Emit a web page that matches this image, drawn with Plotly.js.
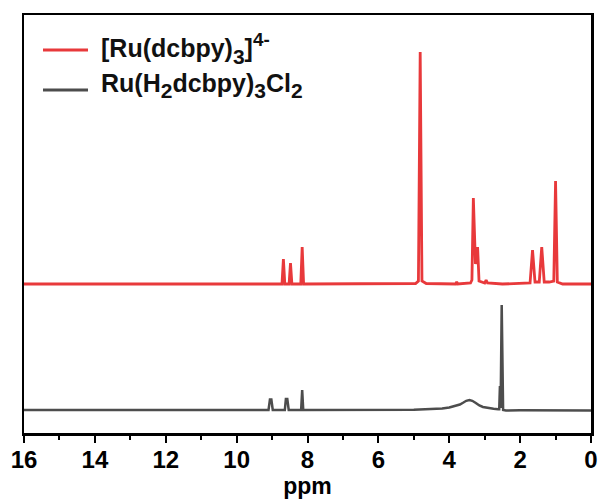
<!DOCTYPE html>
<html>
<head>
<meta charset="utf-8">
<script src="https://cdn.plot.ly/plotly-3.0.1.min.js"></script>
<style>
  html, body { margin: 0; padding: 0; background: #ffffff; }
  #chart { width: 600px; height: 501px; }
</style>
</head>
<body>
<div id="chart"></div>
<script>
// 1H NMR spectra (D2O), chemical shift in ppm vs. intensity (arb. units)

// [Ru(dcbpy)3]4-
const ppmRu = [16, 9.0, 8.72, 8.68, 8.64, 8.52, 8.48, 8.44, 8.19, 8.15, 8.11,
  4.95, 4.87, 4.82, 4.77, 4.65, 3.82, 3.79, 3.76, 3.40, 3.36, 3.32, 3.26, 3.20, 3.16,
  3.0, 2.96, 2.92, 2.5, 1.72, 1.65, 1.58, 1.46, 1.39, 1.32, 1.18, 1.05, 1.0, 0.95, 0.8, 0];
const intRu = [0, 0, 0, 25, 0, 0, 21, 0, 0, 37, 0,
  0.5, 3, 232, 3, 0.5, 0, 2, 0, 1, 4, 86, 20, 37, 3,
  1, 4, 1, 0, 1, 34, 2, 2, 37, 2, 2, 3, 103, 2, 0, 0];

// Ru(H2dcbpy)3Cl2
const ppmH2 = [16, 9.10, 9.06, 9.02, 8.98, 8.64, 8.61, 8.57, 8.53, 8.18, 8.15, 8.12,
  5.0, 4.5, 4.2, 4.0, 3.85, 3.7, 3.6, 3.52, 3.43, 3.35, 3.25, 3.15, 3.05, 2.9, 2.75,
  2.62, 2.59, 2.57, 2.55, 2.52, 2.48, 2.4, 2.0, 0];
const intH2 = [0, 0, 10.5, 10.5, 0, 0, 11, 11, 0, 0, 20, 0,
  0.3, 0.8, 1.5, 2.5, 3.8, 5.5, 7.5, 9.2, 10, 9.2, 7, 4.5, 3, 1.8, 1.2,
  0.8, 0.8, 24, 2, 105, 0, -0.5, -0.3, -0.5];

// legend labels; sub/superscripts sized up so they read close to full size
const sub = s => '<span style="font-size:30px"><sub>' + s + '</sub></span>';
const sup = s => '<span style="font-size:27px"><sup>' + s + '</sup></span>';
const seriesNames = ['[Ru(dcbpy)' + sub('3') + ']' + sup('4-'),
                     'Ru(H' + sub('2') + 'dcbpy)' + sub('3') + 'Cl' + sub('2')];
const seriesColors = ['#e8393b', '#4d4d4d'];
const stackOffset = 126;   // vertical shift of the upper spectrum

const xTickVals = [16, 14, 12, 10, 8, 6, 4, 2, 0];

const font = 'Arial, "Liberation Sans", sans-serif';

const traces = [
  {
    x: ppmRu, y: intRu.map(v => v + stackOffset),
    type: 'scatter', mode: 'lines', name: '[Ru(dcbpy)3]4-',
    line: { color: seriesColors[0], width: 2.8 }, showlegend: false
  },
  {
    x: ppmH2, y: intH2,
    type: 'scatter', mode: 'lines', name: 'Ru(H2dcbpy)3Cl2',
    line: { color: seriesColors[1], width: 2.5 }, showlegend: false
  }
];

// hand-placed legend: sample line + label per series
const lineY = [50, 90];
const textY = [49, 85];
const shapes = [];
const annotations = [];
seriesNames.forEach((n, i) => {
  shapes.push({
    type: 'line', xref: 'paper', yref: 'paper',
    x0: (43 - 24) / 567, x1: (88 - 24) / 567,
    y0: (433 - lineY[i]) / 418, y1: (433 - lineY[i]) / 418,
    line: { color: seriesColors[i], width: 2.8 }
  });
  annotations.push({
    xref: 'paper', yref: 'paper', x: (99 - 24) / 567, y: (433 - textY[i]) / 418,
    xanchor: 'left', yanchor: 'middle', showarrow: false,
    text: '<b>' + n + '</b>', font: { family: font, size: 25, color: '#111' }
  });
});

const layout = {
  width: 600, height: 501,
  margin: { l: 24, r: 9, t: 15, b: 68 },
  paper_bgcolor: '#ffffff', plot_bgcolor: '#ffffff',
  showlegend: false,
  xaxis: {
    range: [16, 0], tickvals: xTickVals, ticktext: xTickVals.map(v => '<b>' + v + '</b>'),
    ticks: 'outside', ticklen: 7, tickwidth: 2, tickcolor: '#000',
    ticklabelstandoff: -3,
    minor: { dtick: 1, ticks: 'outside', ticklen: 4, tickwidth: 2, tickcolor: '#000' },
    showline: true, linecolor: '#000', linewidth: 2.5, mirror: true,
    showgrid: false, zeroline: false,
    tickfont: { family: font, size: 24, color: '#000' },
    title: { text: '<b>ppm</b>', font: { family: font, size: 23, color: '#000' }, standoff: 0 }
  },
  yaxis: {
    range: [-23, 395], showticklabels: false, ticks: '',
    showline: true, linecolor: '#000', linewidth: 2.5, mirror: true,
    showgrid: false, zeroline: false
  },
  shapes: shapes,
  annotations: annotations
};

Plotly.newPlot('chart', traces, layout, { displayModeBar: false, staticPlot: true });
</script>
</body>
</html>
